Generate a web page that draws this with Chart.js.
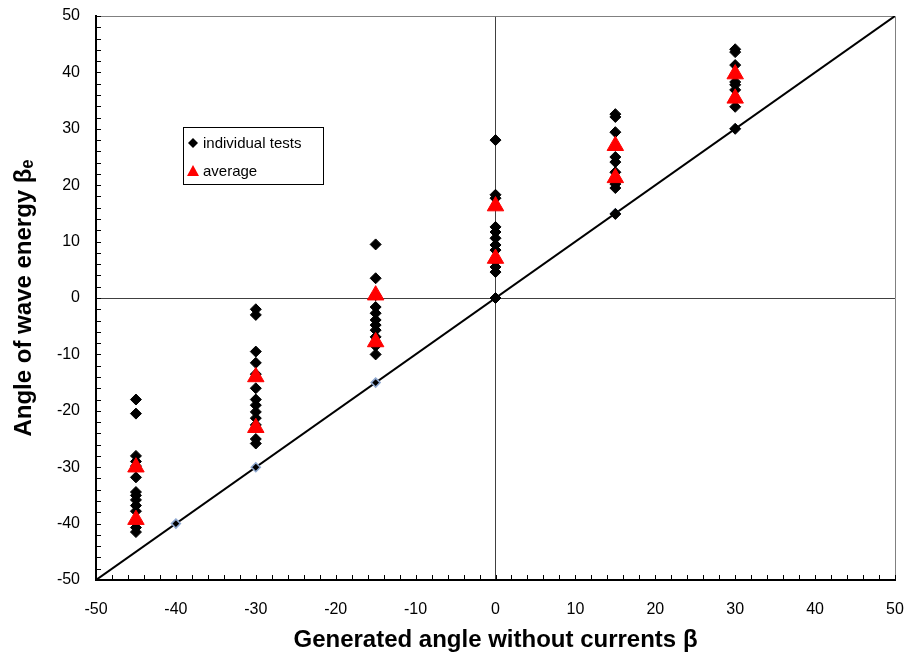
<!DOCTYPE html>
<html lang="en">
<head>
  <meta charset="UTF-8" />
  <title>Angle of wave energy vs generated angle</title>
  <style>
    body { margin:0; background:#fff; }
    #wrap { width:908px; height:655px; }
  </style>
</head>
<body>
  <div id="wrap"><canvas id="chart" width="908" height="655"></canvas></div>

  <script src="https://cdn.jsdelivr.net/npm/chart.js"></script>
  <script>
  // individual test results, one array per generated angle
  const testsAtM45 = [-18, -20.5, -28, -29, -29.8, -31.8, -34.4, -35, -35.8, -36.8, -37.8, -40.7, -41.5];
  const testsAtM30 = [-2, -3, -9.5, -11.5, -13.5, -16, -18, -19, -20.2, -21.3, -22.5, -25, -25.8];
  const testsAtM15 = [9.5, 3.5, 0.5, -1.6, -2.7, -3.9, -4.8, -5.7, -6.9, -8.5, -10];
  const testsAt0   = [28, 18.3, 17.7, 12.6, 11.7, 10.6, 9.4, 8.5, 6.5, 5.5, 4.6, 0];
  const testsAt15  = [32.6, 32.1, 29.4, 25, 24.1, 22.3, 20.2, 19.5, 14.9];
  const testsAt30  = [44.1, 43.6, 41.3, 38.3, 37.8, 36.9, 33.9, 30];
  const testAngles = [-45, -30, -15, 0, 15, 30];

  // averages
  const avgX = [-45, -45, -30, -30, -15, -15, 0, 0, 15, 15, 30, 30];
  const avgY = [-30, -39.3, -14, -23, 0.5, -7.8, 16.3, 7, 27, 21.3, 39.7, 35.4];

  // y = x reference line and its markers
  const lineX = [-50, 50];
  const lineMarkX = [-40, -30, -15, 0, 15, 30];

  const xTicks = { min: -50, max: 50, step: 10, minor: 2 };
  const yTicks = { min: -50, max: 50, step: 10, minor: 2 };

  const FONT = "'Liberation Sans', Arial, sans-serif";

  const individualPts = [];
  [testsAtM45, testsAtM30, testsAtM15, testsAt0, testsAt15, testsAt30].forEach((arr, i) => {
    arr.forEach(v => individualPts.push({ x: testAngles[i], y: v }));
  });
  const avgPts = avgX.map((x, i) => ({ x, y: avgY[i] }));
  const linePts = lineX.map(x => ({ x, y: x }));
  const markPts = lineMarkX.map(x => ({ x, y: x }));

  // frame (top/right gray) + inward tick marks on left and bottom axes
  const frameTicks = {
    id: 'frameTicks',
    beforeDatasetsDraw(chart) {
      const { ctx, chartArea: a } = chart;
      ctx.save();
      ctx.strokeStyle = '#808080';
      ctx.lineWidth = 1;
      ctx.beginPath();
      ctx.moveTo(a.left, a.top + 0.5); ctx.lineTo(a.right + 0.5, a.top + 0.5);
      ctx.lineTo(a.right + 0.5, a.bottom);
      ctx.stroke();
      ctx.restore();
    },
    afterDatasetsDraw(chart) {
      const { ctx, chartArea: a, scales } = chart;
      ctx.save();
      ctx.strokeStyle = '#000';
      ctx.lineWidth = 1;
      ctx.beginPath();
      for (let v = xTicks.min; v <= xTicks.max; v += xTicks.minor) {
        const px = Math.round(scales.x.getPixelForValue(v)) + 0.5;
        ctx.moveTo(px, a.bottom); ctx.lineTo(px, a.bottom - 5);
      }
      for (let v = yTicks.min; v <= yTicks.max; v += yTicks.minor) {
        const py = Math.round(scales.y.getPixelForValue(v)) + 0.5;
        ctx.moveTo(a.left, py); ctx.lineTo(a.left + 5, py);
      }
      ctx.stroke();
      ctx.restore();
    }
  };

  // boxed legend inside the plot area
  const boxLegend = {
    id: 'boxLegend',
    afterDraw(chart) {
      const { ctx, chartArea: a } = chart;
      const x0 = a.left + 87, y0 = a.top + 111, w = 140, h = 57;
      ctx.save();
      ctx.fillStyle = '#fff';
      ctx.fillRect(x0, y0, w, h);
      ctx.strokeStyle = '#000';
      ctx.lineWidth = 1;
      ctx.strokeRect(x0 + 0.5, y0 + 0.5, w, h);
      // diamond
      const dx = x0 + 10, dy1 = y0 + 16, dy2 = y0 + 44;
      ctx.fillStyle = '#000';
      ctx.beginPath();
      ctx.moveTo(dx, dy1 - 5); ctx.lineTo(dx + 5, dy1); ctx.lineTo(dx, dy1 + 5); ctx.lineTo(dx - 5, dy1);
      ctx.closePath(); ctx.fill();
      // triangle
      ctx.fillStyle = '#ff0000';
      ctx.beginPath();
      ctx.moveTo(dx, dy2 - 6); ctx.lineTo(dx + 6, dy2 + 5); ctx.lineTo(dx - 6, dy2 + 5);
      ctx.closePath(); ctx.fill();
      ctx.fillStyle = '#000';
      ctx.font = '15px ' + FONT;
      ctx.textBaseline = 'middle';
      ctx.textAlign = 'left';
      ctx.fillText('individual tests', x0 + 20, dy1 + 1);
      ctx.fillText('average', x0 + 20, dy2 + 1);
      ctx.restore();
    }
  };

  const zeroGrid = c => (c.tick && c.tick.value === 0) ? '#404040' : 'rgba(0,0,0,0)';

  new Chart(document.getElementById('chart').getContext('2d'), {
    type: 'scatter',
    data: {
      datasets: [
        {
          label: 'average',
          data: avgPts,
          pointStyle: 'triangle',
          pointRadius: 9.5,
          backgroundColor: '#ff0000',
          borderColor: '#ff0000',
          borderWidth: 1,
          order: 1
        },
        {
          label: 'individual tests',
          data: individualPts,
          pointStyle: 'rectRot',
          pointRadius: 5.5,
          backgroundColor: '#000',
          borderColor: '#000',
          borderWidth: 1,
          order: 2
        },
        {
          label: 'line markers',
          data: markPts,
          pointStyle: 'rectRot',
          pointRadius: 4.5,
          backgroundColor: '#000',
          borderColor: '#8fa8d0',
          borderWidth: 1.5,
          order: 3
        },
        {
          label: 'y = x',
          data: linePts,
          showLine: true,
          pointRadius: 0,
          borderColor: '#000',
          borderWidth: 2,
          order: 4
        }
      ]
    },
    options: {
      responsive: false,
      animation: false,
      layout: { padding: { top: 16, right: 13, left: 0, bottom: 0 } },
      plugins: { legend: { display: false }, tooltip: { enabled: false } },
      scales: {
        x: {
          type: 'linear',
          min: xTicks.min, max: xTicks.max,
          afterFit: s => { s.height = 75; s.paddingLeft = 0; s.paddingRight = 0; },
          grid: { color: zeroGrid, drawTicks: false, lineWidth: 1 },
          border: { display: true, color: '#000', width: 2 },
          ticks: {
            stepSize: xTicks.step, color: '#000', padding: 20,
            maxRotation: 0, font: { family: FONT, size: 16 }
          },
          title: {
            display: true,
            text: 'Generated angle without currents β',
            color: '#000',
            font: { family: FONT, size: 24, weight: 'bold' },
            padding: { top: 0, bottom: 0 }
          }
        },
        y: {
          type: 'linear',
          min: yTicks.min, max: yTicks.max,
          afterFit: s => { s.width = 96; s.paddingTop = 0; s.paddingBottom = 0; },
          grid: { color: zeroGrid, drawTicks: false, lineWidth: 1 },
          border: { display: true, color: '#000', width: 2 },
          ticks: {
            stepSize: yTicks.step, color: '#000', padding: 16,
            font: { family: FONT, size: 16 }
          },
          title: {
            display: true,
            text: 'Angle of wave energy βₑ',
            color: '#000',
            font: { family: FONT, size: 24, weight: 'bold' },
            padding: { top: 10, bottom: 0 }
          }
        }
      }
    },
    plugins: [frameTicks, boxLegend]
  });
  </script>
</body>
</html>
